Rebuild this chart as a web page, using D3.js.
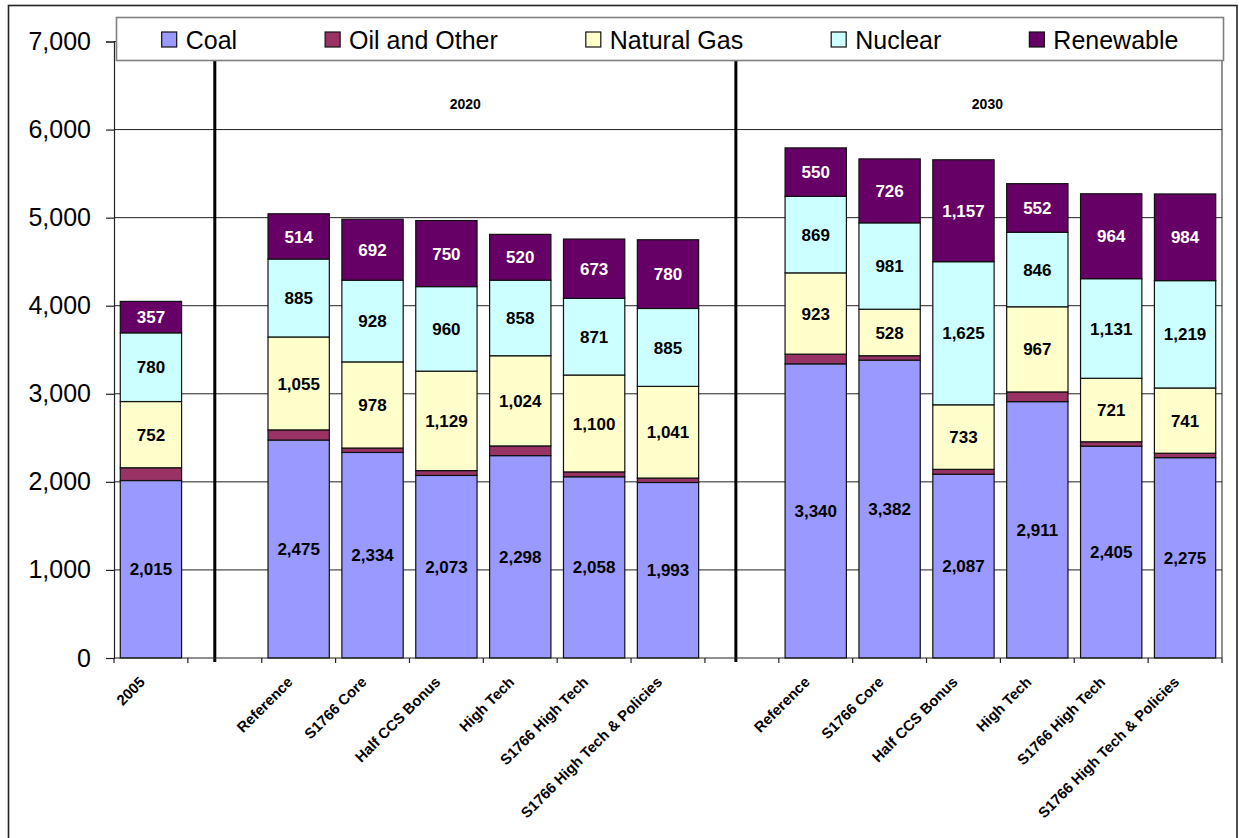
<!DOCTYPE html>
<html>
<head>
<meta charset="utf-8">
<script src="https://cdn.jsdelivr.net/npm/d3@7"></script>
<style>
  html, body { margin: 0; padding: 0; background: #fff; }
  svg { display: block; font-family: "Liberation Sans", Arial, sans-serif; }
</style>
</head>
<body>
<svg id="chart" width="1239" height="838"></svg>
<script>
// ---- data ----
const categories = ["2005", "", "Reference", "S1766 Core", "Half CCS Bonus", "High Tech", "S1766 High Tech", "S1766 High Tech & Policies",
                    "", "Reference", "S1766 Core", "Half CCS Bonus", "High Tech", "S1766 High Tech", "S1766 High Tech & Policies"];
const groupLabels = ["2020", "2030"];
const seriesNames = ["Coal", "Oil and Other", "Natural Gas", "Nuclear", "Renewable"];
const coal      = [2015, null, 2475, 2334, 2073, 2298, 2058, 1993, null, 3340, 3382, 2087, 2911, 2405, 2275];
const oil       = [145,  null, 115,  50,   55,   110,  55,   50,   null, 110,  50,   55,   110,  50,   50];
const gas       = [752,  null, 1055, 978,  1129, 1024, 1100, 1041, null, 923,  528,  733,  967,  721,  741];
const nuclear   = [780,  null, 885,  928,  960,  858,  871,  885,  null, 869,  981,  1625, 846,  1131, 1219];
const renewable = [357,  null, 514,  692,  750,  520,  673,  780,  null, 550,  726,  1157, 552,  964,  984];
const yTicks = [0, 1000, 2000, 3000, 4000, 5000, 6000, 7000];
const showLabel = [true, false, true, true, true];

// ---- styles ----
const colors = ["#9999FF", "#993366", "#FFFFCC", "#CCFFFF", "#660066"];
const labelColors = ["#000", "#000", "#000", "#000", "#fff"];

const svg = d3.select("#chart");
const W = 1239, H = 838;
const plot = { left: 114, right: 1222, top: 41.5, bottom: 658 };

svg.append("rect").attr("width", W).attr("height", H).attr("fill", "#fff");
// outer frame
svg.append("rect").attr("x", 8.5).attr("y", 5.5).attr("width", 1228.5).attr("height", 850)
  .attr("fill", "none").attr("stroke", "#222").attr("stroke-width", 1.6);

const idx = d3.range(categories.length);
const x = d3.scaleBand().domain(idx).range([plot.left, plot.right]).paddingInner(0.17).paddingOuter(0.085);
const y = d3.scaleLinear().domain([0, 7000]).range([plot.bottom, plot.top]);
const step = x.step();

// gridlines
svg.append("g").selectAll("line").data(yTicks.filter(d => d > 0)).join("line")
  .attr("x1", plot.left).attr("x2", plot.right)
  .attr("y1", d => y(d)).attr("y2", d => y(d))
  .attr("stroke", "#222").attr("stroke-width", 1);

// right border of plot area
svg.append("line").attr("x1", plot.right).attr("x2", plot.right)
  .attr("y1", plot.top).attr("y2", plot.bottom).attr("stroke", "#222").attr("stroke-width", 1);

// stacked bars
const seriesData = [coal, oil, gas, nuclear, renewable];
const rows = idx.map(i => ({ i, v: seriesData.map(s => s[i]) }));
const stack = d3.stack().keys(d3.range(5)).value((r, k) => r.v[k] || 0);
const stacked = stack(rows);

const gBars = svg.append("g");
stacked.forEach((layer, k) => {
  gBars.append("g").selectAll("rect").data(layer.filter(d => d.data.v[k] != null)).join("rect")
    .attr("x", d => x(d.data.i))
    .attr("width", x.bandwidth())
    .attr("y", d => y(d[1]))
    .attr("height", d => y(d[0]) - y(d[1]))
    .attr("fill", colors[k])
    .attr("stroke", "#111").attr("stroke-width", 1.2);
});

// value labels
const fmt = d3.format(",");
stacked.forEach((layer, k) => {
  if (!showLabel[k]) return;
  svg.append("g").selectAll("text").data(layer.filter(d => d.data.v[k] != null)).join("text")
    .attr("x", d => x(d.data.i) + x.bandwidth() / 2)
    .attr("y", d => (y(d[0]) + y(d[1])) / 2)
    .attr("dy", "0.36em")
    .attr("text-anchor", "middle")
    .attr("font-size", 17).attr("font-weight", "bold")
    .attr("fill", labelColors[k])
    .text(d => fmt(d.data.v[k]));
});

// separator lines
const sepX = [x(1) + x.bandwidth() / 2 - 10, x(8) + x.bandwidth() / 2 - 6];
svg.append("g").selectAll("line").data(sepX).join("line")
  .attr("x1", d => d).attr("x2", d => d)
  .attr("y1", 58).attr("y2", plot.bottom + 4)
  .attr("stroke", "#000").attr("stroke-width", 3);

// group labels
const groupCenters = [
  (x(2) + x(7) + x.bandwidth()) / 2 - 18,
  (x(9) + x(14) + x.bandwidth()) / 2 - 13
];
svg.append("g").selectAll("text").data(groupLabels).join("text")
  .attr("x", (d, i) => groupCenters[i]).attr("y", 109)
  .attr("text-anchor", "middle").attr("font-size", 14).attr("font-weight", "bold")
  .text(d => d);

// y axis
const yAxis = d3.axisLeft(y).tickValues(yTicks).tickFormat(fmt).tickSize(8).tickPadding(15);
const gy = svg.append("g").attr("transform", `translate(${plot.left},0)`).call(yAxis);
gy.select(".domain").attr("stroke", "#222").attr("stroke-width", 1.2);
gy.selectAll(".tick line").attr("stroke", "#222").attr("stroke-width", 1.2);
gy.selectAll(".tick text").attr("font-size", 25).attr("fill", "#000")
  .attr("font-family", "'Liberation Sans', Arial, sans-serif");

// x axis line and boundary ticks
svg.append("line").attr("x1", plot.left).attr("x2", plot.right)
  .attr("y1", plot.bottom).attr("y2", plot.bottom).attr("stroke", "#222").attr("stroke-width", 1.2);
const boundaries = d3.range(categories.length + 1).map(k => plot.left + k * step);
svg.append("g").selectAll("line").data(boundaries).join("line")
  .attr("x1", d => d).attr("x2", d => d)
  .attr("y1", plot.bottom).attr("y2", plot.bottom + 5)
  .attr("stroke", "#222").attr("stroke-width", 1.2);

// x labels
svg.append("g").selectAll("text").data(idx.filter(i => categories[i] !== "")).join("text")
  .attr("transform", i => `translate(${x(i) + x.bandwidth() / 2 - 5},683) rotate(-45)`)
  .attr("text-anchor", "end")
  .attr("font-size", 14.8).attr("font-weight", "bold")
  .text(i => categories[i]);

// legend
const legend = svg.append("g");
legend.append("rect").attr("x", 116.5).attr("y", 17.5).attr("width", 1107).attr("height", 43)
  .attr("fill", "#fff").attr("stroke", "#808080").attr("stroke-width", 1.6);
let lx = 161.7;
seriesNames.forEach((name, k) => {
  legend.append("rect").attr("x", lx).attr("y", 32).attr("width", 15).attr("height", 15)
    .attr("fill", colors[k]).attr("stroke", "#111").attr("stroke-width", 1.2);
  const t = legend.append("text").attr("x", lx + 24).attr("y", 49)
    .attr("font-size", 25).attr("fill", "#000").text(name);
  lx += 24 + t.node().getComputedTextLength() + 88;
});
</script>
</body>
</html>
